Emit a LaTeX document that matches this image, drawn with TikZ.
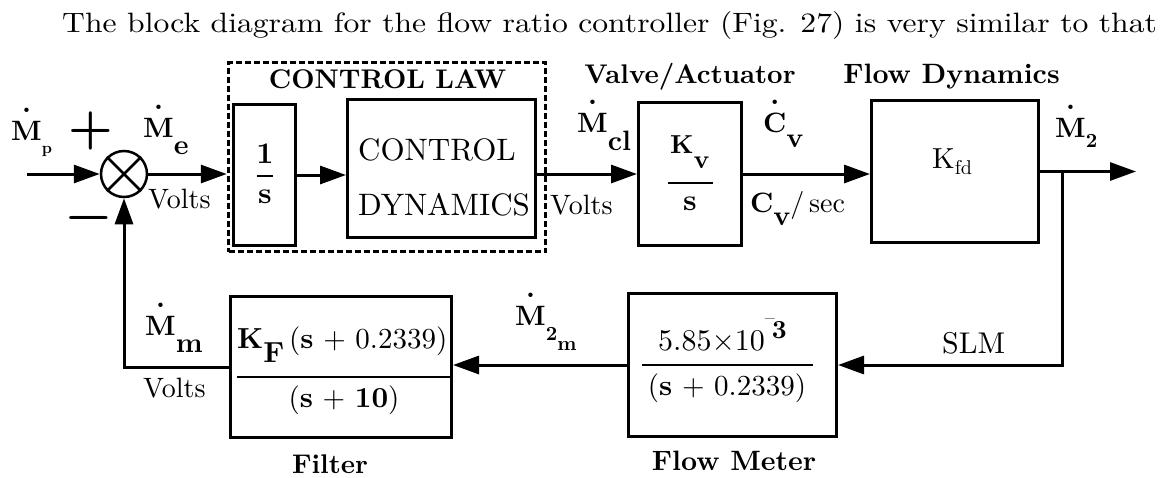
\documentclass[tikz,border=0pt]{standalone}
\usepackage{fontspec}
\setmainfont{lmroman10-regular}[Extension=.otf, BoldFont=lmroman10-bold]
\usetikzlibrary{arrows.meta}
\newcommand\Mdot{\ooalign{M\cr\hidewidth\raisebox{1.0em}[0pt][0pt]{.}\hidewidth\cr}}
\newcommand\Cdot{\ooalign{C\cr\hidewidth\raisebox{1.0em}[0pt][0pt]{.}\hidewidth\cr}}
\newcommand\fs[1]{\fontsize{#1}{#1}\selectfont}
\tikzset{
  blk/.style={draw, line width=3pt, rectangle, inner sep=0pt},
  lawbox/.style={draw, line width=3.5pt, dash pattern=on 6pt off 3pt, rectangle, inner sep=0pt},
  lab/.style={inner sep=0pt, anchor=base west, font=\fs{28}},
  blab/.style={inner sep=0pt, anchor=base west, font=\bfseries\fs{28}},
  ttl/.style={inner sep=0pt, anchor=base, font=\bfseries\fs{27}},
  inner/.style={inner sep=0pt, anchor=base},
  sign/.style={inner sep=0pt, font=\bfseries\fs{50}},
  arr/.style={line width=3pt, -{Triangle[length=26pt,width=18pt]}},
  bar/.style={line width=1.2pt},
}
\begin{document}
\begin{tikzpicture}[x=1pt,y=-1pt]
\useasboundingbox (0,0) rectangle (1172,477);

% header sentence
\node[lab, font=\fs{28}] (hdr) at (62,32) {\scalebox{1.13}[1]{The block diagram for the flow ratio controller (Fig. 27) is very similar to that}};

% blocks
\node[lawbox, minimum width=317pt, minimum height=189pt] (law) at (387,157) {};
\node[blk, minimum width=62pt, minimum height=141pt] (b1) at (264.5,175) {};
\node[blk, minimum width=188pt, minimum height=138pt] (cd) at (441.5,168.5) {};
\node[blk, minimum width=103pt, minimum height=143pt] (kv) at (690,174) {};
\node[blk, minimum width=167pt, minimum height=142pt] (fd) at (955,171.5) {};
\node[blk, minimum width=208pt, minimum height=143pt] (fm) at (732.5,365) {};
\node[blk, minimum width=221pt, minimum height=141pt] (fi) at (341,367) {};
\node[draw, circle, line width=2.5pt, minimum size=46pt, inner sep=0pt] (sum) at (124,174) {};
\draw[line width=2.5pt] (sum.north west) -- (sum.south east);
\draw[line width=2.5pt] (sum.north east) -- (sum.south west);

% block contents
\node[inner, font=\bfseries\fs{30}] (b1n) at (265,163) {1};
\draw[bar] (257,176) -- (273,176);
\node[inner, font=\bfseries\fs{30}] (b1d) at (265,203) {s};

\node[inner, font=\fs{31}] (cd1) at (437,160) {CONTROL};
\node[inner, font=\fs{31}] (cd2) at (444,215) {DYNAMICS};

\node[blab, font=\bfseries\fs{26}] (kvn) at (670,153) {K\raisebox{-15pt}{v}};
\draw[bar] (668,183) -- (713,183);
\node[inner, font=\bfseries\fs{30}] (kvd) at (690,210) {s};

\node[lab, font=\fs{29}] (kfd) at (932,168) {K\raisebox{-6pt}{\fs{20}fd}};

\node[lab, font=\fs{30}] (fmn) at (658,350) {5.85×10\raisebox{26pt}[0pt][0pt]{\fs{20}–}\kern-3pt\raisebox{12pt}[0pt][0pt]{\fs{26}\textbf{3}}};
\draw[bar] (642,365) -- (813,365);
\node[inner, font=\fs{29}] (fmd) at (727,395) {(\textbf{s} + 0.2339)};

\node[lab, font=\fs{29}] (fin) at (237,348) {\textbf{K}\raisebox{-14pt}{\textbf{F}}\,(\textbf{s} + 0.2339)};
\draw[bar] (237,377) -- (451,377);
\node[inner, font=\fs{29}] (fid) at (344,407) {(\textbf{s} + \textbf{10})};

% titles
\node[ttl] (tlaw) at (387.5,88) {CONTROL LAW};
\node[ttl] (tva) at (690,83) {Valve/Actuator};
\node[ttl, font=\bfseries\fs{28}] (tfd) at (951.5,83) {Flow Dynamics};
\node[ttl] (tfi) at (330,473) {Filter};
\node[ttl, font=\bfseries\fs{28}] (tfm) at (734,470) {Flow Meter};

% signal labels
\node[blab] (lmp) at (11,140) {\Mdot\raisebox{-13pt}{\fs{16}p}};
\node[sign] (plussign) at (91,131) {+};
\node[sign] (minus) at (89,223) {−};
\node[blab] (lme) at (143,137) {\Mdot\raisebox{-17pt}{e}};
\node[lab] (v1) at (148,208) {Volts};
\node[blab] (lmcl) at (577,132) {\Mdot\raisebox{-18pt}{cl}};
\node[lab] (v2) at (550,214) {Volts};
\node[blab] (lcv) at (763,132) {\Cdot\raisebox{-15pt}{v}};
\node[lab] (lcvs) at (750,212) {\textbf{C}\raisebox{-13pt}{\textbf{v}}/\,sec};
\node[blab] (lm2) at (1055,137) {\Mdot\raisebox{-10pt}{\fs{20}2}};
\node[lab, font=\fs{30}] (slm) at (942,353) {SLM};
\node[blab] (lm2m) at (515,325) {\Mdot\raisebox{-15pt}{\fs{20}2\raisebox{-10pt}{m}}};
\node[blab] (lmm) at (145,335) {\Mdot\raisebox{-17pt}{m}};
\node[lab] (v3) at (143,397) {Volts};

% connectors
\coordinate (in) at (27,174);
\coordinate (out) at (1136,171.5);
\coordinate (br) at (1062,171.5);
\draw[arr] (in) -- (sum.west);
\draw[arr] (sum.east) -- (law.west |- sum.east);
\draw[arr] (b1.east) -- (cd.west |- b1.east);
\draw[arr] (cd.east |- kv.west) -- (kv.west);
\draw[arr] (kv.east) -- (fd.west |- kv.east);
\draw[arr] (fd.east) -- (out);
\draw[arr] (br) |- (fm.east);
\draw[arr] (fm.west) -- (fi.east |- fm.west);
\draw[arr] (fi.west) -| (sum.south);
\end{tikzpicture}
\end{document}
